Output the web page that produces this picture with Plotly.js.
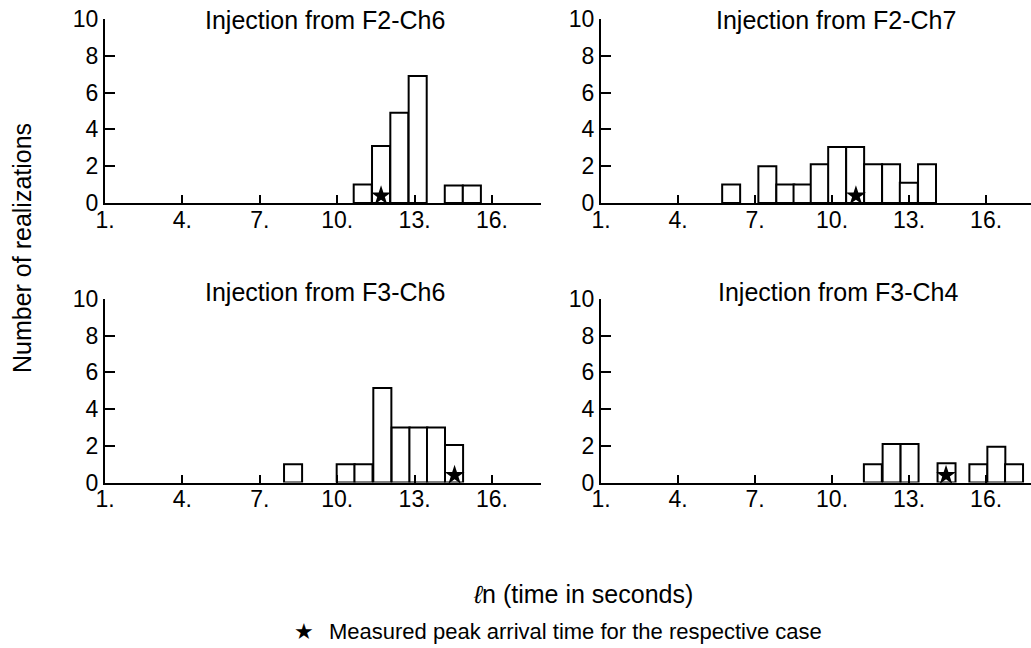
<!DOCTYPE html>
<html>
<head>
<meta charset="utf-8">
<script src="https://cdn.plot.ly/plotly-3.0.1.min.js"></script>
<style>html,body{margin:0;padding:0;background:#fff;}</style>
</head>
<body>
<div id="chart" style="width:1031px;height:648px;"></div>
<script>
// ---- Data ----
const panelTitles = ["Injection from F2-Ch6", "Injection from F2-Ch7", "Injection from F3-Ch6", "Injection from F3-Ch4"];

// bin centres (ln of time in seconds) and counts per panel
const binsF2Ch6 = [10.99, 11.70, 12.41, 13.12, 14.52, 15.22];
const countsF2Ch6 = [1.0, 3.1, 4.9, 6.9, 0.95, 0.95];

const binsF2Ch7 = [6.07, 7.48, 8.18, 8.85, 9.52, 10.20, 10.90, 11.60, 12.30, 12.99, 13.70];
const countsF2Ch7 = [1.0, 2.0, 1.0, 1.0, 2.1, 3.05, 3.05, 2.1, 2.1, 1.1, 2.1];

const binsF3Ch6 = [8.29, 10.33, 11.02, 11.75, 12.46, 13.15, 13.83, 14.53];
const countsF3Ch6 = [1.0, 1.0, 1.0, 5.15, 3.0, 3.0, 3.0, 2.05];

const binsF3Ch4 = [11.59, 12.32, 13.02, 14.46, 15.70, 16.40, 17.09];
const countsF3Ch4 = [1.0, 2.1, 2.1, 1.05, 1.0, 1.95, 1.0];

// measured peak arrival time (star) per panel
const measuredX = [11.70, 10.93, 14.55, 14.44];
const measuredY = [0.4, 0.4, 0.4, 0.4];

const xTickVals = [1, 4, 7, 10, 13, 16];
const xTickText = ["1.", "4.", "7.", "10.", "13.", "16."];
const yTickVals = [0, 2, 4, 6, 8, 10];
const yTickText = ["0", "2", "4", "6", "8", "10"];

const yAxisLabel = "Number of realizations";
const xAxisLabel = "<i>\u2113</i>n (time in seconds)";
const legendText = "Measured peak arrival time for the respective case";

// ---- Build ----
const W = 1031, H = 648;
const px = x => x / W;
const py = y => 1 - y / H;
const FONT = "Liberation Sans, Arial, Helvetica, sans-serif";

const binSets = [binsF2Ch6, binsF2Ch7, binsF3Ch6, binsF3Ch4];
const countSets = [countsF2Ch6, countsF2Ch7, countsF3Ch6, countsF3Ch4];
const axIds = ["", "2", "3", "4"];

const data = [];
binSets.forEach((bins, i) => {
  data.push({
    type: "bar",
    x: bins,
    y: countSets[i],
    width: 0.7,
    xaxis: "x" + axIds[i],
    yaxis: "y" + axIds[i],
    marker: {color: "white", line: {color: "black", width: 2}},
    showlegend: false,
    hoverinfo: "x+y"
  });
  data.push({
    type: "scatter",
    mode: "markers",
    x: [measuredX[i]],
    y: [measuredY[i]],
    xaxis: "x" + axIds[i],
    yaxis: "y" + axIds[i],
    marker: {symbol: "star", size: 15, color: "black"},
    showlegend: false,
    cliponaxis: false
  });
});

const xDomL = [px(105), px(541)];
const xDomR = [px(601), px(1031)];
const yDomT = [py(203), py(19)];
const yDomB = [py(482.5), py(299)];

function xAx(domain, range, anchor) {
  return {
    domain: domain, range: range, anchor: anchor,
    tickmode: "array", tickvals: xTickVals, ticktext: xTickText,
    ticks: "inside", ticklen: 8, tickwidth: 2, tickcolor: "black",
    showline: true, linewidth: 2, linecolor: "black",
    showgrid: false, zeroline: false,
    ticklabelstandoff: -5,
    tickfont: {family: FONT, size: 23, color: "black"}
  };
}
function yAx(domain, anchor) {
  return {
    domain: domain, range: [0, 10], anchor: anchor,
    tickmode: "array", tickvals: yTickVals, ticktext: yTickText,
    ticks: "inside", ticklen: 10, tickwidth: 2, tickcolor: "black",
    showline: true, linewidth: 2, linecolor: "black",
    showgrid: false, zeroline: false,
    tickfont: {family: FONT, size: 23, color: "black"}
  };
}

const titlePos = [[325, 20.5], [836, 20.5], [325, 292.5], [838, 292.5]];
const annotations = titlePos.map((p, i) => ({
  text: panelTitles[i], xref: "paper", yref: "paper",
  x: px(p[0]), y: py(p[1]), xanchor: "center", yanchor: "middle",
  showarrow: false, font: {family: FONT, size: 25, color: "black"}
}));
annotations.push({
  text: yAxisLabel, xref: "paper", yref: "paper",
  x: px(22), y: py(248), xanchor: "center", yanchor: "middle",
  textangle: -90, showarrow: false,
  font: {family: FONT, size: 25, color: "black"}
});
annotations.push({
  text: xAxisLabel, xref: "paper", yref: "paper",
  x: px(583), y: py(594), xanchor: "center", yanchor: "middle",
  showarrow: false, font: {family: FONT, size: 25, color: "black"}
});
annotations.push({
  text: "\u2605", xref: "paper", yref: "paper",
  x: px(304), y: py(631), xanchor: "center", yanchor: "middle",
  showarrow: false, font: {family: "DejaVu Sans, sans-serif", size: 22, color: "black"}
});
annotations.push({
  text: legendText, xref: "paper", yref: "paper",
  x: px(327), y: py(631), xanchor: "left", yanchor: "middle",
  showarrow: false, font: {family: FONT, size: 22, color: "black"}
});

const layout = {
  width: W, height: H,
  margin: {l: 0, r: 0, t: 0, b: 0, pad: 0},
  paper_bgcolor: "white", plot_bgcolor: "white",
  font: {family: FONT, color: "black"},
  bargap: 0,
  showlegend: false,
  xaxis: xAx(xDomL, [1, 17.9], "y"),
  yaxis: yAx(yDomT, "x"),
  xaxis2: xAx(xDomR, [1, 17.75], "y2"),
  yaxis2: yAx(yDomT, "x2"),
  xaxis3: xAx(xDomL, [1, 17.9], "y3"),
  yaxis3: yAx(yDomB, "x3"),
  xaxis4: xAx(xDomR, [1, 17.75], "y4"),
  yaxis4: yAx(yDomB, "x4"),
  annotations: annotations
};

Plotly.newPlot("chart", data, layout, {displayModeBar: false, staticPlot: true});
</script>
</body>
</html>
